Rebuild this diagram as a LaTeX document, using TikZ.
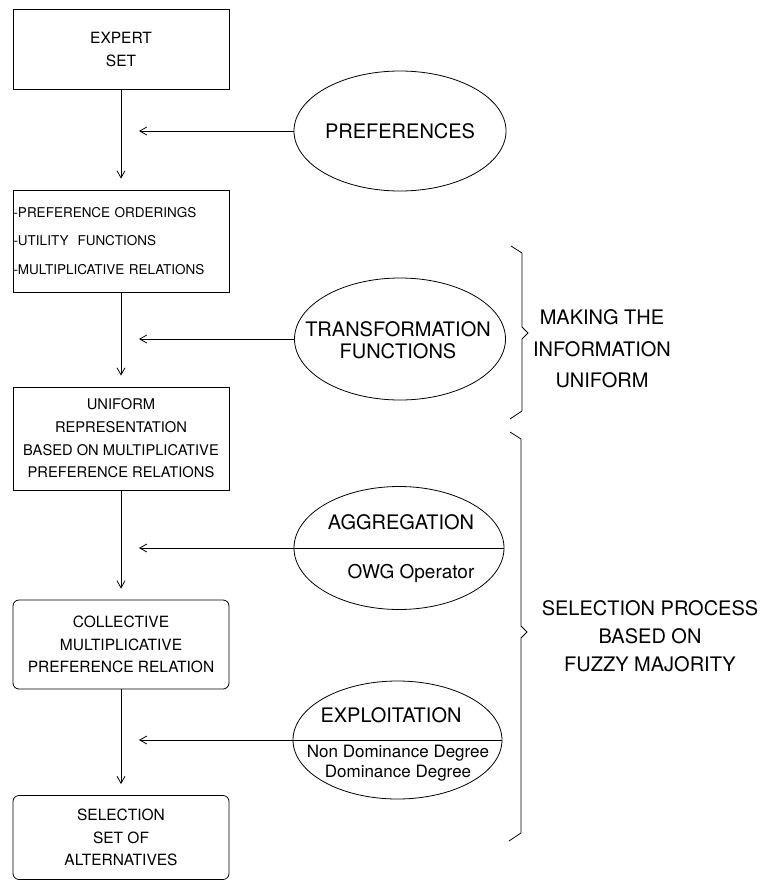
\documentclass[tikz,border=0pt]{standalone}
\usepackage{fontspec}
\setmainfont{TeX Gyre Heros}
\usetikzlibrary{arrows.meta,shapes.geometric}
\tikzstyle{block} = [rectangle, draw, minimum width=216pt, align=center, font=\fontsize{15.5}{23}\selectfont]
\tikzstyle{roundblock} = [block, rounded corners=6pt]
\tikzstyle{oval} = [ellipse, draw, minimum width=210pt, minimum height=120pt, inner sep=0pt, align=center, font=\fontsize{20}{22}\selectfont]
\tikzstyle{inoval} = [align=center, inner sep=0pt, font=\fontsize{20}{22}\selectfont]
\tikzstyle{side} = [align=center, font=\fontsize{20}{30}\selectfont]
\tikzset{edge/.style = {
    -{Straight Barb[length=7pt,width=8pt]},
    shorten >=11pt,
  },
  feed/.style = {edge, shorten >=18pt}
}
\newcommand{\sidebrace}[4]{%
  \draw (#1-11,#2) -- (#1,#2+7) -- (#1,#3-6) -- (#1+6,#3) -- (#1,#3+6) -- (#1,#4-8) -- (#1-12,#4);
}

\begin{document}
\begin{tikzpicture}[x=1pt, y=-1pt, line width=0.8pt]
            \useasboundingbox (0,0) rectangle (766,881);
            % boxes
            \node[block, minimum height=80pt] (expert) at (121,49) {EXPERT\\SET};
            \node[block, minimum height=102pt, text width=215pt, inner xsep=0.5pt, align=left, font=\fontsize{13.5}{28.5}\selectfont] (forms) at (121,241) {-PREFERENCE ORDERINGS\\-UTILITY\ \ FUNCTIONS\\-MULTIPLICATIVE RELATIONS};
            \node[block, minimum height=103pt, font=\fontsize{14.7}{22.7}\selectfont] (uniform) at (121,438.5) {UNIFORM\\REPRESENTATION\\BASED ON MULTIPLICATIVE\\PREFERENCE RELATIONS};
            \node[roundblock, minimum height=89pt, font=\fontsize{15.5}{22.5}\selectfont] (collective) at (121,644.5) {COLLECTIVE\\MULTIPLICATIVE\\PREFERENCE RELATION};
            \node[roundblock, minimum height=84pt, font=\fontsize{15.5}{22.5}\selectfont] (selection) at (121,837.5) {SELECTION\\SET OF\\ALTERNATIVES};

            % ovals
            \node[oval] (prefs) at (400,131) {PREFERENCES};
            \node[oval, minimum height=122pt, minimum width=211pt] (transform) at (400,339) {};
            \node[inoval] (transformname) at (398,340) {TRANSFORMATION\\FUNCTIONS};
            \node[oval, minimum height=123pt] (aggr) at (399,548) {};
            \node[inoval] (aggrname) at (401,522) {AGGREGATION};
            \node[inoval, font=\fontsize{19}{22}\selectfont] (aggrop) at (411,573) {OWG Operator};
            \node[oval, minimum height=118pt, minimum width=209pt] (explo) at (397.5,740) {};
            \node[inoval] (exploname) at (391,715) {EXPLOITATION};
            \node[inoval, font=\fontsize{17}{19.5}\selectfont] (explodeg) at (398,763) {Non Dominance Degree\\Dominance Degree};
            \draw (aggr.west) -- (aggr.east);
            \draw (explo.west) -- (explo.east);

            % edges
            \draw[edge] (expert) -- (forms);
            \draw[edge] (forms) -- (uniform);
            \draw[edge] (uniform) -- (collective);
            \draw[edge] (collective) -- (selection);
            \draw[feed] (prefs.west) -- (prefs.west -| expert);
            \draw[feed] (transform.west) -- (transform.west -| expert);
            \draw[feed] (aggr.west) -- (aggr.west -| expert);
            \draw[feed] (explo.west) -- (explo.west -| expert);

            % braces
            \sidebrace{522}{246}{333}{419}
            \sidebrace{521}{432}{632}{841}
            \node[side, font=\fontsize{20}{31.5}\selectfont] (making) at (602,349) {MAKING THE\\INFORMATION\\UNIFORM};
            \node[side, font=\fontsize{20}{28}\selectfont] (process) at (650,636) {SELECTION PROCESS\\BASED ON\\FUZZY MAJORITY};
\end{tikzpicture}
\end{document}
